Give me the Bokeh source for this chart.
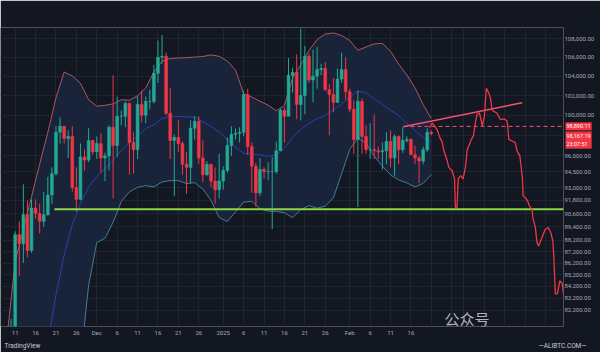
import math
import pandas as pd
import numpy as np
from bokeh.plotting import figure
from bokeh.models import FixedTicker, NumeralTickFormatter, Label, Range1d, ColumnDataSource, LinearAxis
from bokeh.embed import file_html
from bokeh.resources import INLINE

# ---------------- data ----------------
BASE = "2024-11-11"          # day 0 of the x axis
candle_start = "2024-11-10"
candle_end = "2025-02-21"

opens = [76700, 80400, 88700, 87900, 90500, 87300, 91100, 90600, 89900, 90500, 92300, 94300, 98300, 98900, 97700, 97900, 93000, 91900, 95900, 95600, 97500,
         96400, 97200, 95800, 96000, 98800, 97000, 99900, 99900, 101200, 97300, 96600, 101100, 100000, 101400, 101400, 104300, 106000, 106100, 100200, 97500, 97800, 97200, 95200, 94900, 98700, 99400, 95800, 94200, 95200, 93600, 92800,
         93600, 94600, 97000, 98100, 98200, 98300, 102100, 96900, 95000, 92500, 94700, 94500, 94500, 94500, 96500, 100500, 99900, 104100, 104400, 101100, 102000, 106100, 103600, 104000, 104700, 104800, 102600, 102100, 101300, 103700, 104700,
         102400, 100600, 97600, 101400, 97900, 96600, 96600, 96500, 96400, 96500, 97400, 95800, 97900, 96600, 97500, 97600, 96100, 95800, 95500, 96600, 98300]
highs = [81500, 89000, 89900, 93300, 91800, 91900, 91900, 91500, 92600, 94000, 94900, 98900, 99800, 98900, 98500, 98900, 94900, 97200, 96600, 98700, 97500,
         97900, 98200, 96300, 99000, 104100, 101900, 100500, 101400, 101300, 98300, 101900, 102500, 101900, 102600, 105200, 107800, 108400, 106500, 102800, 98100, 99500, 97400, 96400, 99500, 99900, 99900, 97500, 95500, 95200, 94900, 96200,
         95000, 97800, 98900, 98700, 98800, 102500, 102700, 97300, 95300, 95800, 94900, 95400, 95900, 97400, 100700, 100800, 105900, 104900, 106300, 109100, 107200, 106400, 106800, 107100, 105300, 105500, 103200, 103800, 104800, 106500, 106000,
         102700, 101500, 102500, 101700, 99000, 99200, 100100, 96900, 97300, 98300, 98500, 98100, 98000, 98800, 97900, 97700, 97000, 96000, 96900, 98700, 98500]
lows = [76500, 80200, 85100, 86200, 86700, 87100, 90100, 88800, 89400, 90400, 91500, 94100, 97200, 97200, 95800, 92600, 90800, 91800, 94600, 95400, 96100,
        95700, 94400, 93600, 94600, 92000, 95900, 99000, 98800, 94200, 94300, 95700, 99300, 99200, 100600, 101200, 103300, 105300, 100000, 95700, 92200, 96400, 94200, 92400, 93400, 97600, 95200, 93500, 94100, 93000, 91500, 92000,
        92800, 94400, 96000, 97600, 97300, 97900, 96100, 92500, 91200, 92200, 93800, 93700, 89200, 94300, 96500, 97300, 99900, 102300, 99600, 99500, 100100, 103300, 101300, 102700, 104100, 102500, 98000, 100300, 101300, 103300, 101600,
        100300, 96200, 91200, 96200, 96200, 95700, 95700, 95700, 94700, 95200, 94900, 94100, 95200, 96300, 97300, 96100, 95200, 93400, 95200, 96400, 98000]
closes = [80400, 88700, 87900, 90500, 87300, 91100, 90600, 89900, 90500, 92300, 94300, 98300, 98900, 97700, 97900, 93000, 91900, 95900, 95600, 97500, 96400,
          97200, 95800, 96000, 98800, 97000, 99900, 99900, 101200, 97300, 96600, 101100, 100000, 101400, 101400, 104300, 106000, 106100, 100200, 97500, 97800, 97200, 95200, 94900, 98700, 99400, 95800, 94200, 95200, 93600, 92800, 93600,
          94600, 97000, 98100, 98200, 98300, 102100, 96900, 95000, 92500, 94700, 94500, 94500, 94500, 96500, 100500, 99900, 104100, 104400, 101100, 102000, 106100, 103600, 104000, 104700, 104800, 102600, 102100, 101300, 103700, 104700, 102400,
          100600, 97600, 101400, 97900, 96600, 96600, 96500, 96400, 96500, 97400, 95800, 97900, 96600, 97500, 97600, 96100, 95800, 95500, 96600, 98300, 98167.19]

bb_day = [-2, 0, 2, 4, 6, 8, 10, 12, 14, 16, 18, 20, 22, 24, 26, 28, 30, 32, 34, 36, 38, 40, 42, 44, 46, 48, 50,
          52, 54, 56, 58, 60, 62, 64, 66, 68, 70, 72, 74, 76, 78, 80, 82, 84, 86, 88, 90, 92, 94, 96, 98, 100, 102]
bb_upper = [80000, 86370, 89160, 92130, 95210, 98290, 101770, 104440, 104030, 103270, 101570, 100910, 101000, 101150, 101570, 101520, 101980, 102790, 104440, 105590, 105870, 105920, 105960, 106020, 106080, 106250, 106100,
            105600, 104650, 102180, 101840, 101420, 101020, 100460, 100970, 103820, 105200, 106700, 107900, 108500, 108620, 108350, 107800, 106750, 107100, 107440, 107490, 106640, 105270, 104130, 102790, 101070, 99670]
bb_basis = [68000, 72000, 73500, 75000, 77200, 79600, 83500, 86890, 89610, 91500, 93060, 94030, 94790, 95550, 96540, 97310, 97900, 98680, 99030, 99670, 99900, 99870, 99840, 99820, 99370, 98880, 98340,
            97610, 96830, 96270, 96180, 96100, 95970, 96070, 96740, 97800, 98580, 99180, 99670, 99970, 100560, 101120, 101830, 102460, 102280, 101680, 101070, 100510, 99970, 99180, 98490, 97760, 97410]
bb_lower = [56000, 58000, 60000, 61000, 62000, 63000, 65000, 68000, 72500, 78100, 84300, 88000, 88370, 89800, 91700, 92590, 93020, 93180, 93060, 93520, 93650, 93650, 93370, 93450, 92870, 91810, 90230,
            89880, 90740, 91650, 91710, 91040, 90810, 90800, 90680, 90230, 90950, 91320, 91090, 91270, 92040, 94270, 96640, 97710, 97220, 95970, 95020, 94180, 93710, 93430, 93060, 93380, 94220]

# hand-drawn projection (day offset, price)
proj_day = [101.6, 102.2, 103.4, 104.1, 104.7, 105.1, 105.9, 106.3, 107.1, 107.7, 107.9, 108.3, 108.6, 109.2, 109.8, 110.4, 110.8, 111.2, 111.8, 112.3,
            112.8, 113.2, 113.8, 114.5, 115.0, 115.5, 116.1, 116.5, 116.9, 117.3, 118.1, 118.9, 119.9, 120.6, 121.0, 121.8, 122.6, 123.0, 123.7, 124.3,
            124.5, 125.1, 125.6, 126.1, 126.7, 126.9, 127.5, 127.9, 128.3, 129.1, 129.9, 130.7, 131.3, 131.8, 132.0, 132.2, 132.4, 132.9, 133.5, 134.1, 134.5]
proj_price = [98750, 99230, 98580, 97780, 97290, 96480, 95530, 94900, 94580, 93800, 91160, 91160, 93800, 94110, 93800, 95050, 96640, 96960, 97610, 97930,
              99250, 100070, 100240, 98910, 99900, 102750, 102240, 101740, 100560, 100390, 100230, 99570, 99640, 99400, 97610, 97450, 97290, 96480, 96010, 93990,
              92220, 92010, 91770, 91250, 90950, 90200, 89320, 87990, 87690, 88420, 89160, 89320, 88870, 88130, 86970, 85260, 83580, 83580, 84690, 84410, 83310]

support_price = 90980
support_start_day = 9.6
trend_day = [95.1, 124.3]
trend_price = [98850, 101270]
alert_price = 98890.11
alert_start_day = 95.2
last_price = 98167.19
countdown = "23:07:51"

x_tick_dates = ["2024-11-11", "2024-11-16", "2024-11-21", "2024-11-26", "2024-12-01", "2024-12-06", "2024-12-11", "2024-12-16", "2024-12-21", "2024-12-26",
                "2025-01-01", "2025-01-06", "2025-01-11", "2025-01-16", "2025-01-21", "2025-01-26", "2025-02-01", "2025-02-06", "2025-02-11", "2025-02-16",
                "2025-02-21", "2025-02-26", "2025-03-01", "2025-03-06", "2025-03-11", "2025-03-16", "2025-03-21"]
x_tick_labels = ["11", "16", "21", "26", "Dec", "6", "11", "16", "21", "26", "2025", "6", "11", "16", "21", "26", "Feb", "6", "11", "16",
                 "", "", "", "", "", "", ""]
y_ticks = [82200, 83200, 84200, 85200, 86200, 87200, 88200, 89400, 90600, 91800, 93000, 94500, 96000, 98000,
           100000, 102000, 104000, 106000, 108000, 110000, 112000]
y_hidden = [98000]
footer_texts = ["TradingView", "—ALIBTC.COM—"]

# ---------------- layout geometry ----------------
W, H = 600, 352
FW = 563            # frame width (price scale to the right)
FB = 329            # frame bottom (time scale + footer below)
T = 27              # strip on top that hosts the price-box labels
Y_TOP, Y_BOT = 112190, 80880        # price at canvas y=0 and y=FB
K = math.log(Y_TOP / Y_BOT) / FB
def price_at(py):
    return Y_TOP * math.exp(-py * K)
x0, x1 = -3.6, 134.4
def sx(px):
    return x0 + px * (x1 - x0) / FW

# ---------------- build ----------------
BG = "#131722"
UP = "#22ab94"
DOWN = "#f23645"
base = pd.Timestamp(BASE)
cd = pd.date_range(candle_start, candle_end, freq="D")
cx = np.array([(d - base).days for d in cd], dtype=float)
o = np.array(opens, float); h = np.array(highs, float); l = np.array(lows, float); c = np.array(closes, float)
col = [UP if cc >= oo else DOWN for oo, cc in zip(o, c)]
src = ColumnDataSource(dict(x=cx, h=h, l=l, top=np.maximum(o, c), bot=np.minimum(o, c), col=col))

p = figure(width=W, height=H, x_range=Range1d(x0, x1), y_range=Range1d(Y_BOT, price_at(T)),
           y_axis_type="log", y_axis_location="right", output_backend="svg", toolbar_location=None,
           min_border_left=0, min_border_right=W - FW, min_border_top=T, min_border_bottom=H - FB,
           background_fill_color=BG, border_fill_color=BG, outline_line_color=None)

tick_x = [(pd.Timestamp(t) - base).days for t in x_tick_dates]
p.xaxis.ticker = FixedTicker(ticks=tick_x, minor_ticks=[])
p.xaxis.major_label_overrides = {tx: lab for tx, lab in zip(tick_x, x_tick_labels)}
p.yaxis.ticker = FixedTicker(ticks=y_ticks, minor_ticks=[])
p.yaxis.formatter = NumeralTickFormatter(format="0,0.00")
p.yaxis.major_label_overrides = {v: "" for v in y_hidden}

# footer row (TradingView mark + watermark site) as a second time-scale row
p.extra_x_ranges = {"foot": Range1d(0, FW)}
foot_ticks = [22, 562]
foot = LinearAxis(x_range_name="foot", ticker=FixedTicker(ticks=foot_ticks, minor_ticks=[]),
                  major_label_overrides={t: s for t, s in zip(foot_ticks, footer_texts)})
p.add_layout(foot, "below")

for ax in (p.xaxis[0], p.yaxis[0], foot):
    ax.axis_line_color = None
    ax.major_tick_line_color = None
    ax.minor_tick_line_color = None
    ax.major_tick_out = 0
    ax.major_tick_in = 0
    ax.major_label_text_color = "#a6a9b2"
    ax.major_label_text_font = "Roboto"
    ax.major_label_text_font_size = "6px"
    ax.major_label_standoff = 2
p.yaxis.major_label_standoff = 1
foot.major_label_standoff = 3
foot.major_label_text_color = "#c9ccd3"
foot.major_label_text_font_size = "6.5px"
for g in (p.xgrid[0], p.ygrid[0]):
    g.grid_line_color = "#1f2431"
    g.grid_line_width = 1

# Bollinger band
p.varea(x=bb_day, y1=bb_lower, y2=bb_upper, fill_color="#19233a")
p.line(bb_day, bb_upper, line_color="#e06a6f", line_alpha=0.75, line_width=1)
p.line(bb_day, bb_basis, line_color="#2d45b8", line_alpha=0.9, line_width=1)
p.line(bb_day, bb_lower, line_color="#4e8ea3", line_alpha=0.85, line_width=1)

# candles
p.segment(x0="x", y0="h", x1="x", y1="l", source=src, line_color="col", line_width=1)
p.vbar(x="x", width=0.68, top="top", bottom="bot", source=src, fill_color="col", line_color="col", line_width=0.6)

# support line, trend line, alert line, projection
p.segment(x0=[support_start_day], y0=[support_price], x1=[x1], y1=[support_price], line_color="#8bd547", line_width=2)
p.line(trend_day, trend_price, line_color="#f4516c", line_width=1.5)
p.segment(x0=[alert_start_day], y0=[alert_price], x1=[x1], y1=[alert_price], line_color="#f4516c", line_width=1, line_dash="4 3")
p.line(proj_day, proj_price, line_color="#f23645", line_width=1.3)

# price boxes on the price scale (side-panel labels are drawn unclipped)
p.add_layout(Label(x=sx(FW + 2), y=alert_price, text=f"{alert_price:,.2f}", text_font="Roboto",
                   text_font_size="5.5px", text_color="#ffffff", text_baseline="middle",
                   background_fill_color="#f23645", padding=(1, 2)), "above")
p.add_layout(Label(x=sx(FW + 2), y=price_at(132), text=f"{last_price:,.2f}\n{countdown}", text_font="Roboto",
                   text_font_size="5.5px", text_color="#ffffff", text_baseline="top",
                   background_fill_color="#f23645", padding=(1, 2)), "above")

# watermark over the bottom of the chart
p.add_layout(Label(x=sx(444), y=price_at(321), text="公众号", text_font="Noto Sans CJK SC",
                   text_font_size="15px", text_color="#e8e8e8", text_alpha=0.75, text_baseline="middle"))

open("out.html", "w").write(file_html(p, INLINE))
